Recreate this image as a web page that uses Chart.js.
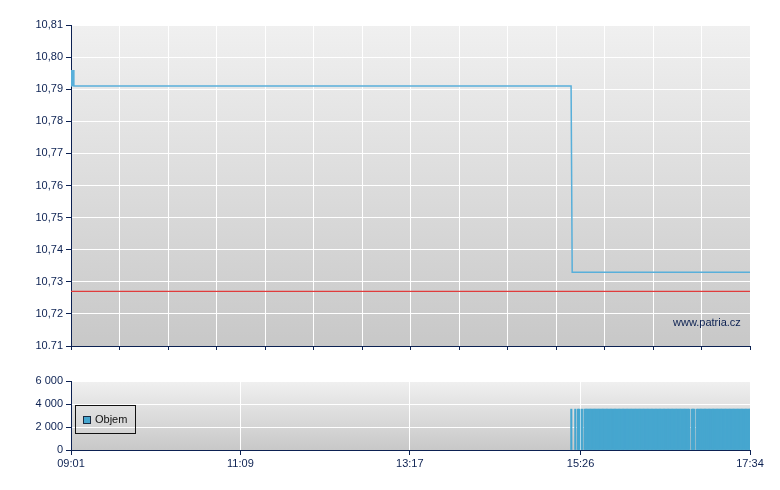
<!DOCTYPE html>
<html>
<head>
<meta charset="utf-8">
<script src="https://cdn.jsdelivr.net/npm/chart.js@4"></script>
<style>
  body { margin: 0; background: #fff; font-family: "Liberation Sans", Arial, sans-serif; }
  #wrap { position: relative; width: 780px; height: 490px; }
  canvas { position: absolute; left: 0; }
  #price { top: 0; }
  #volume { top: 360px; }
  .legend { position: absolute; left: 75px; top: 405px; width: 59px; height: 27px; border: 1px solid #111; }
  .legend .sw { position: absolute; left: 7px; top: 10px; width: 6px; height: 6px; background: #46a6cf; border: 1px solid #1a2a40; }
  .legend .lb { position: absolute; left: 19px; top: 7px; font-size: 11px; color: #111; }
  .mark { position: absolute; left: 673px; top: 316px; font-size: 11px; color: #0c2152; }
</style>
</head>
<body>
<div id="wrap">
  <canvas id="price" width="780" height="360"></canvas>
  <canvas id="volume" width="780" height="130"></canvas>
  <div class="legend"><div class="sw"></div><div class="lb">Objem</div></div>
  <div class="mark">www.patria.cz</div>
</div>
<script>
// price line (time, value)
const priceTimes = ["09:01:00", "09:01:30", "09:02:00", "09:02:40", "09:03:10", "15:18:50", "15:19:40", "17:34:00"];
const priceValues = [10.791, 10.796, 10.791, 10.796, 10.791, 10.791, 10.733, 10.733];
const prevClose = 10.727;

// volume bars, one per minute with a trade
const volTimes = [
  "15:19", "15:22", "15:24", "15:25", "15:27",
  "15:29", "15:30", "15:31", "15:32", "15:33", "15:34", "15:35", "15:36", "15:37", "15:38", "15:39",
  "15:40", "15:41", "15:42", "15:43", "15:44", "15:45", "15:46", "15:47", "15:48", "15:49",
  "15:50", "15:51", "15:52", "15:53", "15:54", "15:55", "15:56", "15:57", "15:58", "15:59",
  "16:00", "16:01", "16:02", "16:03", "16:04", "16:05", "16:06", "16:07", "16:08", "16:09",
  "16:10", "16:11", "16:12", "16:13", "16:14", "16:15", "16:16", "16:17", "16:18", "16:19",
  "16:20", "16:21", "16:22", "16:23", "16:24", "16:25", "16:26", "16:27", "16:28", "16:29",
  "16:30", "16:31", "16:32", "16:33", "16:34", "16:35", "16:36", "16:37", "16:38", "16:39",
  "16:40", "16:41", "16:42", "16:43", "16:44", "16:45", "16:46", "16:47", "16:48",
  "16:50", "16:51", "16:52",
  "16:54", "16:55", "16:56", "16:57", "16:58", "16:59",
  "17:00", "17:01", "17:02", "17:03", "17:04", "17:05", "17:06", "17:07", "17:08", "17:09",
  "17:10", "17:11", "17:12", "17:13", "17:14", "17:15", "17:16", "17:17", "17:18", "17:19",
  "17:20", "17:21", "17:22", "17:23", "17:24", "17:25", "17:26", "17:27", "17:28", "17:29",
  "17:30", "17:31", "17:32", "17:33", "17:34"
];
const volValues = [
  3550, 3550, 3550, 3550, 3550,
  3550, 3550, 3550, 3550, 3550, 3550, 3550, 3550, 3550, 3550, 3550,
  3550, 3550, 3550, 3550, 3550, 3550, 3550, 3550, 3550, 3550,
  3550, 3550, 3550, 3550, 3550, 3550, 3550, 3550, 3550, 3550,
  3550, 3550, 3550, 3550, 3550, 3550, 3550, 3550, 3550, 3550,
  3550, 3550, 3550, 3550, 3550, 3550, 3550, 3550, 3550, 3550,
  3550, 3550, 3550, 3550, 3550, 3550, 3550, 3550, 3550, 3550,
  3550, 3550, 3550, 3550, 3550, 3550, 3550, 3550, 3550, 3550,
  3550, 3550, 3550, 3550, 3550, 3550, 3550, 3550, 3550,
  3550, 3550, 3550,
  3550, 3550, 3550, 3550, 3550, 3550,
  3550, 3550, 3550, 3550, 3550, 3550, 3550, 3550, 3550, 3550,
  3550, 3550, 3550, 3550, 3550, 3550, 3550, 3550, 3550, 3550,
  3550, 3550, 3550, 3550, 3550, 3550, 3550, 3550, 3550, 3550,
  3550, 3550, 3550, 3550, 3550
];

// axis ticks
const yTickValues = [10.71, 10.72, 10.73, 10.74, 10.75, 10.76, 10.77, 10.78, 10.79, 10.80, 10.81];
const yTickLabels = ["10.71", "10,72", "10,73", "10,74", "10,75", "10,76", "10,77", "10,78", "10,79", "10,80", "10,81"];
const volTickValues = [0, 2000, 4000, 6000];
const volTickLabels = ["0", "2 000", "4 000", "6 000"];
const timeTickLabels = ["09:01", "11:09", "13:17", "15:26", "17:34"];

const navy = "#0c2152";
const font = { family: "'Liberation Sans', Arial, sans-serif", size: 11 };

// minutes since session start
function toMin(t) {
  const p = t.split(":").map(Number);
  return p[0] * 60 + p[1] + (p[2] || 0) / 60 - (9 * 60 + 1);
}
const xMax = toMin("17:34");

// gradient behind the plot area
const bgPlugin = {
  id: "bg",
  beforeDraw(chart) {
    const { ctx, chartArea: a } = chart;
    const g = ctx.createLinearGradient(0, a.top, 0, a.bottom);
    g.addColorStop(0, "#f0f0f0");
    g.addColorStop(1, "#c8c8c8");
    ctx.save();
    ctx.fillStyle = g;
    ctx.fillRect(a.left, a.top, a.right - a.left, a.bottom - a.top);
    ctx.restore();
  }
};

function yAxis(min, max, values, labels) {
  return {
    min: min, max: max,
    afterFit: (s) => { s.width = 71; },
    afterBuildTicks: (s) => { s.ticks = values.map((v) => ({ value: v })); },
    grid: { color: "#ffffff", lineWidth: 1, tickColor: navy, tickLength: 5 },
    border: { color: navy, width: 1 },
    ticks: {
      color: navy, font: font, padding: 3,
      callback: (v) => labels[values.indexOf(v)] ?? ""
    }
  };
}

new Chart(document.getElementById("price"), {
  type: "line",
  data: {
    datasets: [
      {
        data: priceTimes.map((t, i) => ({ x: toMin(t), y: priceValues[i] })),
        borderColor: "#58afda",
        borderWidth: 1.5,
        pointRadius: 0,
        tension: 0
      },
      {
        data: [{ x: 0, y: prevClose }, { x: xMax, y: prevClose }],
        borderColor: "#e03c3c",
        borderWidth: 1.2,
        pointRadius: 0
      }
    ]
  },
  options: {
    responsive: false,
    animation: false,
    devicePixelRatio: 1,
    layout: { padding: { top: 25, right: 30, left: 0, bottom: 0 } },
    plugins: { legend: { display: false }, tooltip: { enabled: false } },
    scales: {
      x: {
        type: "linear", min: 0, max: xMax,
        afterFit: (s) => { s.height = 14; },
        afterBuildTicks: (s) => {
          const t = [];
          for (let i = 0; i <= 14; i++) t.push({ value: i * xMax / 14 });
          s.ticks = t;
        },
        grid: { color: "#ffffff", tickColor: navy, tickLength: 4 },
        border: { color: navy, width: 1 },
        ticks: { display: false }
      },
      y: yAxis(10.71, 10.81, yTickValues, yTickLabels)
    }
  },
  plugins: [bgPlugin]
});

new Chart(document.getElementById("volume"), {
  type: "bar",
  data: {
    datasets: [{
      data: volTimes.map((t, i) => ({ x: toMin(t), y: volValues[i] })),
      backgroundColor: "#46a6cf",
      borderWidth: 0,
      inflateAmount: 0.4,
      barPercentage: 1,
      categoryPercentage: 1
    }]
  },
  options: {
    responsive: false,
    animation: false,
    devicePixelRatio: 1,
    layout: { padding: { top: 21, right: 30, left: 0, bottom: 0 } },
    plugins: { legend: { display: false }, tooltip: { enabled: false } },
    scales: {
      x: {
        type: "linear", min: 0, max: xMax, offset: false,
        afterFit: (s) => { s.height = 40; },
        afterBuildTicks: (s) => { s.ticks = timeTickLabels.map((t) => ({ value: toMin(t) })); },
        grid: { color: "#ffffff", tickColor: navy, tickLength: 5, offset: false },
        border: { color: navy, width: 1 },
        ticks: {
          color: navy, font: font, padding: 2, maxRotation: 0,
          callback: (v, i) => timeTickLabels[i]
        }
      },
      y: yAxis(0, 6000, volTickValues, volTickLabels)
    }
  },
  plugins: [bgPlugin]
});
</script>
</body>
</html>
